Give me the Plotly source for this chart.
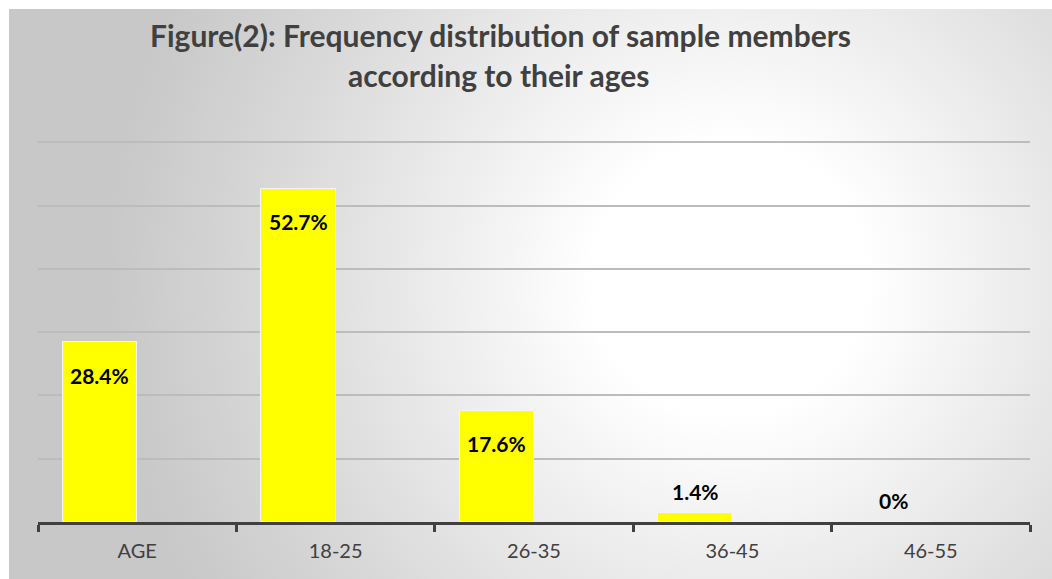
import base64
import plotly.graph_objects as go

categories = ["AGE", "18-25", "26-35", "36-45", "46-55"]
values = [28.4, 52.7, 17.6, 1.4, 0]
labels = ["28.4%", "52.7%", "17.6%", "1.4%", "0%"]

W, H = 1052, 579
ML, MR, MT, MB = 38, 22, 136, 57
pw, ph = W - ML - MR, H - MT - MB
YMAX = 61

svg = f'''<svg xmlns="http://www.w3.org/2000/svg" width="1043" height="570" viewBox="0 0 1043 570" preserveAspectRatio="none">
<defs><radialGradient id="g" gradientUnits="userSpaceOnUse" cx="720" cy="270" r="620">
<stop offset="0" stop-color="#ffffff"/><stop offset="0.22" stop-color="#ffffff"/>
<stop offset="0.75" stop-color="#d8d8d8"/><stop offset="1" stop-color="#c8c8c8"/></radialGradient></defs>
<rect x="0" y="0" width="1043" height="570" fill="url(#g)"/></svg>'''
src = "data:image/svg+xml;base64," + base64.b64encode(svg.encode()).decode()

fig = go.Figure()
fig.add_trace(go.Bar(
    x=categories, y=values,
    offset=-0.375, width=0.375,
    marker=dict(color="#FFFF00", line=dict(color="#f4f4f4", width=1)),
    hoverinfo="x+y", showlegend=False,
))

annotations = []
for c, v, t in zip(categories, values, labels):
    inside = v > 5
    annotations.append(dict(
        x=c, y=v, xref="x", yref="y", text=f"<b>{t}</b>", showarrow=False,
        xshift=-0.1875 * pw / 5, yshift=-33 if inside else 22,
        font=dict(family="Lato", size=21, color="#000000"),
        xanchor="center", yanchor="middle",
    ))

title_font = dict(family="Lato", size=30, color="#404040")
annotations.append(dict(x=(500 - ML) / pw, y=(H - MB - 35) / ph, xref="paper", yref="paper",
                        text="<b>Figure(2): Frequency distribution of sample members</b>",
                        showarrow=False, font=title_font, xanchor="center", yanchor="middle"))
annotations.append(dict(x=(498 - ML) / pw, y=(H - MB - 75) / ph, xref="paper", yref="paper",
                        text="<b>according to their ages</b>",
                        showarrow=False, font=title_font, xanchor="center", yanchor="middle"))

fig.update_layout(
    width=W, height=H,
    margin=dict(l=ML, r=MR, t=MT, b=MB, pad=0, autoexpand=False),
    paper_bgcolor="white", plot_bgcolor="rgba(0,0,0,0)",
    images=[dict(source=src, xref="paper", yref="paper",
                 x=(9 - ML) / pw, y=(H - MB - 9) / ph,
                 sizex=(W - 9) / pw, sizey=(H - 9) / ph,
                 sizing="stretch", xanchor="left", yanchor="top", layer="below")],
    annotations=annotations,
    bargap=0,
)
fig.update_xaxes(
    type="category", showgrid=False, showline=True, linecolor="#404040", linewidth=3,
    ticks="outside", tickson="boundaries", ticklen=7, tickwidth=3, tickcolor="#404040",
    tickfont=dict(family="Lato", size=20, color="#404040"), ticklabelstandoff=9,
    range=[-0.5, 4.5], fixedrange=True, automargin=False,
)
fig.update_yaxes(
    range=[0, YMAX], tick0=0, dtick=10, showgrid=True, gridcolor="#bcbcbc", gridwidth=1.5,
    showticklabels=False, zeroline=False, showline=False, fixedrange=True, automargin=False,
)

fig.write_html("out.html", post_script="document.body.style.margin='0';",
               config={"displayModeBar": False})
